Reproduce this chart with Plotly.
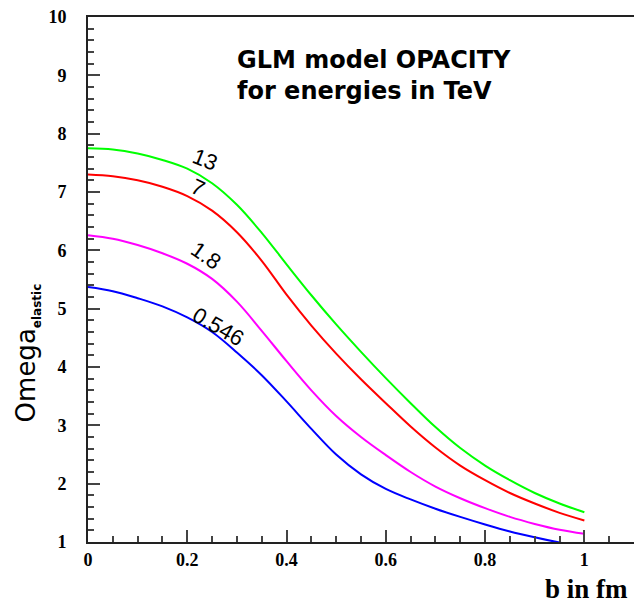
import plotly.graph_objects as go

b = [0.0, 0.05, 0.1, 0.15, 0.2, 0.25, 0.3, 0.35, 0.4, 0.45, 0.5,
     0.55, 0.6, 0.65, 0.7, 0.75, 0.8, 0.85, 0.9, 0.95, 1.0]

omega_13 = [7.75, 7.73, 7.66, 7.55, 7.40, 7.15, 6.78, 6.30, 5.76, 5.23, 4.73,
            4.26, 3.81, 3.38, 2.97, 2.61, 2.31, 2.06, 1.84, 1.66, 1.51]
omega_7 = [7.30, 7.27, 7.20, 7.09, 6.93, 6.68, 6.31, 5.82, 5.24, 4.71, 4.23,
           3.79, 3.38, 2.98, 2.62, 2.31, 2.06, 1.84, 1.66, 1.50, 1.37]
omega_1_8 = [6.26, 6.20, 6.09, 5.95, 5.77, 5.51, 5.12, 4.62, 4.10, 3.60, 3.16,
             2.80, 2.49, 2.20, 1.95, 1.75, 1.58, 1.43, 1.31, 1.21, 1.14]
omega_0_546 = [5.37, 5.30, 5.18, 5.04, 4.85, 4.60, 4.25, 3.86, 3.41, 2.94, 2.50,
               2.16, 1.91, 1.73, 1.57, 1.43, 1.30, 1.18, 1.08, 0.99, 0.91]

energy_labels = ["13", "7", "1.8", "0.546"]
label_x = [0.236, 0.222, 0.238, 0.262]
label_y = [7.56, 7.08, 5.92, 4.70]
label_angle = [22, 25, 35, 30]

series = [(omega_13, "#00ff00"), (omega_7, "#ff0000"),
          (omega_1_8, "#ff00ff"), (omega_0_546, "#0000ff")]

fig = go.Figure()
for ys, col in series:
    fig.add_trace(go.Scatter(x=b, y=ys, mode="lines", line=dict(color=col, width=2, shape="spline"),
                             showlegend=False, hoverinfo="skip"))

for t, lx, ly, ang in zip(energy_labels, label_x, label_y, label_angle):
    fig.add_annotation(x=lx, y=ly, text=t, showarrow=False, textangle=ang,
                       font=dict(family="Liberation Sans", size=22, color="black"))

fig.add_annotation(xref="paper", yref="paper", x=0.269, y=0.888, xanchor="left", yanchor="middle",
                   align="left",
                   text="<b>GLM model OPACITY</b><br><b>for energies in TeV</b>", showarrow=False,
                   font=dict(family="DejaVu Sans", size=24, color="black"))

fig.add_annotation(xref="paper", yref="paper", x=-0.11, y=0.361, xanchor="center", yanchor="middle",
                   text="Omega<sub><span style='font-size:12px'><b>elastic</b></span></sub>",
                   textangle=-90, showarrow=False,
                   font=dict(family="DejaVu Sans", size=26, color="black"))

fig.add_annotation(xref="paper", yref="paper", x=1.0, y=-0.09, xanchor="right", yanchor="middle",
                   xshift=-4,
                   text="<b>b in fm</b>", showarrow=False,
                   font=dict(family="Liberation Serif", size=27, color="black"))

axis_common = dict(showgrid=False, zeroline=False, showline=True, linecolor="#222", linewidth=2,
                   ticks="inside", ticklen=12, tickwidth=1.5, tickcolor="#444",
                   tickfont=dict(family="Liberation Serif", size=18, color="black"))

fig.update_xaxes(range=[0, 1.1], dtick=0.2, tick0=0, mirror=True,
                 minor=dict(dtick=0.05, ticks="inside", ticklen=6, tickcolor="#444", tickwidth=1.5),
                 ticklabelstandoff=0, tickprefix="<b>", ticksuffix="</b>", **axis_common)
fig.update_yaxes(range=[1, 10], dtick=1, tick0=0,
                 minor=dict(dtick=0.2, ticks="inside", ticklen=6, tickcolor="#444", tickwidth=1.5),
                 ticklabelstandoff=16, tickprefix="<b>", ticksuffix="</b>", **axis_common)

fig.update_layout(width=634, height=602, margin=dict(l=88, r=0, t=17, b=60),
                  plot_bgcolor="white", paper_bgcolor="white")

fig.write_html("out.html")
